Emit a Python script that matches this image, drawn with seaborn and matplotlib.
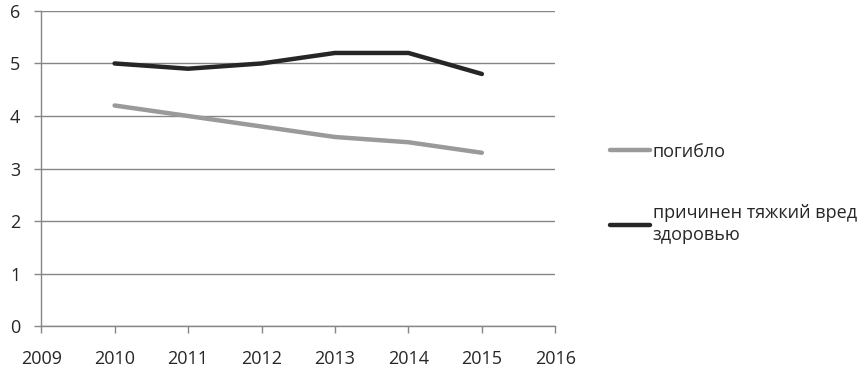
import pandas as pd
import matplotlib
matplotlib.use('Agg')
import matplotlib.pyplot as plt
import seaborn as sns

years = [2010, 2011, 2012, 2013, 2014, 2015]
killed = [4.2, 4.0, 3.8, 3.6, 3.5, 3.3]
injured = [5.0, 4.9, 5.0, 5.2, 5.2, 4.8]
labels = ['погибло', 'причинен тяжкий вред\nздоровью']
colors = ['#9a9a9a', '#262626']


def main():
    sns.set_style('white')
    plt.rcParams['font.family'] = ['Open Sans', 'DejaVu Sans']

    df = pd.DataFrame({
        'year': years * 2,
        'value': killed + injured,
        'series': [labels[0]] * len(years) + [labels[1]] * len(years),
    })

    fig = plt.figure(figsize=(8.57, 3.77), dpi=100)
    ax = fig.add_axes([0.048, 0.135, 0.6, 0.836])

    sns.lineplot(data=df, x='year', y='value', hue='series', palette=colors,
                 linewidth=3.2, ax=ax, solid_capstyle='round')

    ax.set_xlim(2009, 2016)
    ax.set_ylim(0, 6)
    ax.set_xticks(range(2009, 2017))
    ax.set_yticks(range(0, 7))
    ax.set_xlabel('')
    ax.set_ylabel('')

    ax.grid(axis='y', color='#868686', linewidth=1)
    ax.set_axisbelow(True)
    for side in ['top', 'right']:
        ax.spines[side].set_visible(False)
    for side in ['left', 'bottom']:
        ax.spines[side].set_color('#868686')
        ax.spines[side].set_linewidth(1)

    ax.tick_params(axis='both', which='both', length=5, width=1,
                   color='#868686', labelsize=13, direction='out')
    ax.tick_params(axis='x', pad=12)
    ax.tick_params(axis='y', pad=10)
    ax.xaxis.set_ticks_position('bottom')
    ax.yaxis.set_ticks_position('left')

    leg = ax.legend(loc='center left', bbox_to_anchor=(0.693, 0.487),
                    bbox_transform=fig.transFigure, frameon=False, fontsize=13,
                    handlelength=2.2, handletextpad=0.15, labelspacing=2.4)
    for t in leg.get_texts():
        t.set_linespacing(1.3)

    fig.savefig('out.png', dpi=100)


if __name__ == '__main__':
    main()
